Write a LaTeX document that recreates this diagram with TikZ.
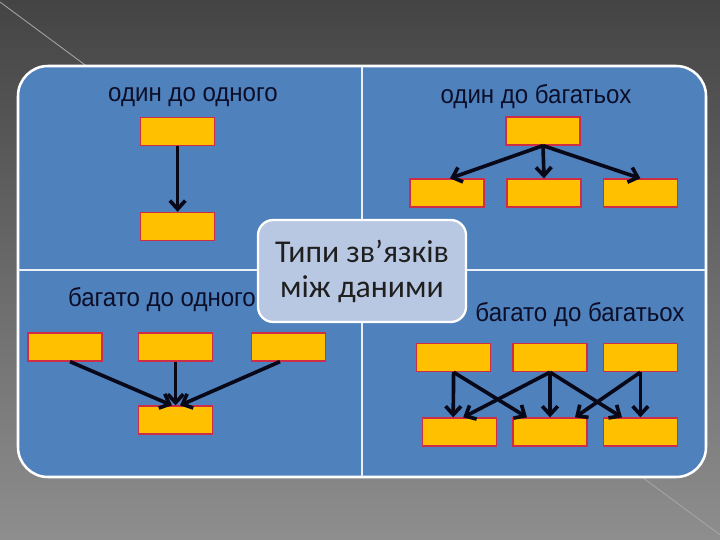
\documentclass[tikz,border=0pt]{standalone}
\usepackage{xcolor}
\usepackage{fontspec}
\setmainfont{Liberation Sans}
\newfontfamily\quadfont[FakeStretch=0.925]{Liberation Sans}
\newfontfamily\titlefont{Carlito}
\usepackage{tikz}
\usetikzlibrary{arrows.meta}

\definecolor{slideblue}{RGB}{79,129,189}
\definecolor{hubfill}{RGB}{185,200,226}
\definecolor{boxyellow}{RGB}{255,192,0}
\definecolor{boxred}{RGB}{205,45,70}
\definecolor{labelnavy}{RGB}{12,14,40}
\definecolor{arrowdark}{RGB}{8,8,24}
\definecolor{bgtop}{RGB}{68,68,68}
\definecolor{bgbottom}{RGB}{142,142,142}

\begin{document}
\begin{tikzpicture}[
  entity/.style={draw=boxred, line width=0.9pt, fill=boxyellow, minimum width=1.85cm, minimum height=0.7cm, inner sep=0pt},
  quadlabel/.style={font=\quadfont\fontsize{18.5}{22}\selectfont, text=labelnavy},
  link/.style={-{Straight Barb[length=6pt,width=11pt]}, line width=2.6pt, draw=arrowdark},
  divider/.style={draw=white!88!slideblue, line width=1.4pt},
  hub/.style={draw=white, line width=1.6pt, fill=hubfill, rounded corners=0.38cm, minimum width=5.2cm, minimum height=2.55cm, align=center, font=\titlefont\fontsize{22.6}{25}\selectfont, text=black!88},
]
  % Slide background
  \shade[top color=bgtop, bottom color=bgbottom] (0,0) rectangle (18,13.5);
  \useasboundingbox (0,0) rectangle (18,13.5);
  \draw[gray!70, line width=0.6pt] (0,13.45) -- (18,0.13);

  % Panel and quarters
  \draw[white, line width=1.8pt, fill=slideblue, rounded corners=0.75cm] (0.45,1.575) rectangle (17.65,11.85);
  \draw[divider] (9.05,11.85) -- (9.05,1.575);
  \draw[divider] (0.45,6.75) -- (17.65,6.75);

  % Centre
  \node[hub] (hub) at (9.05,6.725) {Типи зв’язків\\між даними};

  % One to one
  \node[quadlabel] (lblOneOne) at (4.825,11.075) {один до одного};
  \node[entity] (ooTop) at (4.44,10.21) {};
  \node[entity] (ooBot) at (4.44,7.84) {};
  \draw[link] (ooTop.south) -- (ooBot.north);

  % One to many
  \node[quadlabel] (lblOneMany) at (13.4,11.075) {один до багатьох};
  \node[entity] (omTop) at (13.575,10.225) {};
  \node[entity] (omA) at (11.175,8.675) {};
  \node[entity] (omB) at (13.6,8.675) {};
  \node[entity] (omC) at (16.01,8.675) {};
  \draw[link] (omTop.south) -- ([xshift=0.075cm]omA.north);
  \draw[link] (omTop.south) -- (omB.north);
  \draw[link] (omTop.south) -- (omC.north);

  % Many to one
  \node[quadlabel] (lblManyOne) at (4.05,6.0) {багато до одного};
  \node[entity] (moA) at (1.625,4.825) {};
  \node[entity] (moB) at (4.39,4.825) {};
  \node[entity] (moC) at (7.21,4.825) {};
  \node[entity] (moBot) at (4.39,3.0) {};
  \draw[link] ([xshift=0.125cm]moA.south) -- ([xshift=-0.09cm]moBot.north);
  \draw[link] (moB.south) -- (moBot.north);
  \draw[link] ([xshift=-0.21cm]moC.south) -- ([xshift=0.11cm]moBot.north);

  % Many to many
  \node[quadlabel] (lblManyMany) at (14.5,5.625) {багато до багатьох};
  \node[entity] (mmA) at (11.34,4.56) {};
  \node[entity] (mmB) at (13.75,4.56) {};
  \node[entity] (mmC) at (16.01,4.56) {};
  \node[entity] (mmD) at (11.49,2.7) {};
  \node[entity] (mmE) at (13.75,2.7) {};
  \node[entity] (mmF) at (16.01,2.7) {};
  \draw[link] (mmA.south) -- ([xshift=-0.16cm]mmD.north);
  \draw[link] (mmA.south) -- ([xshift=-0.575cm]mmE.north);
  \draw[link] (mmB.south) -- ([xshift=0.09cm]mmD.north);
  \draw[link] (mmB.south) -- (mmE.north);
  \draw[link] (mmB.south) -- ([xshift=-0.46cm]mmF.north);
  \draw[link] (mmC.south) -- ([xshift=0.625cm]mmE.north);
  \draw[link] (mmC.south) -- (mmF.north);

\end{tikzpicture}
\end{document}
